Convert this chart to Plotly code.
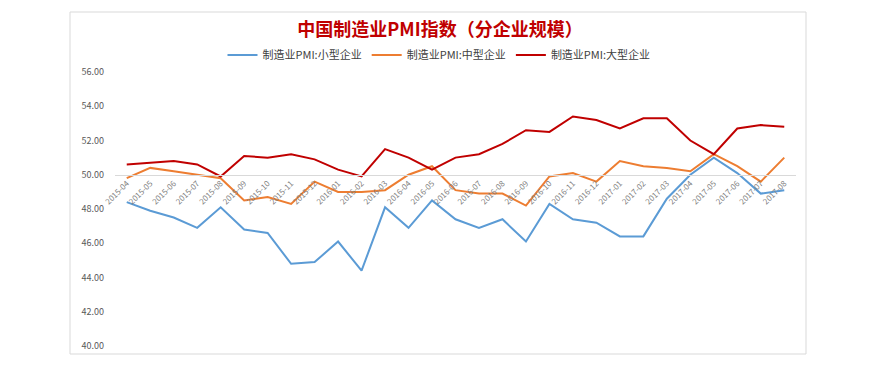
import plotly.graph_objects as go

months = ["2015-04","2015-05","2015-06","2015-07","2015-08","2015-09","2015-10","2015-11","2015-12",
          "2016-01","2016-02","2016-03","2016-04","2016-05","2016-06","2016-07","2016-08","2016-09",
          "2016-10","2016-11","2016-12","2017-01","2017-02","2017-03","2017-04","2017-05","2017-06",
          "2017-07","2017-08"]
small = [48.4,47.9,47.5,46.9,48.1,46.8,46.6,44.8,44.9,46.1,44.4,48.1,46.9,48.5,47.4,46.9,47.4,46.1,
         48.3,47.4,47.2,46.4,46.4,48.6,50.0,51.0,50.1,48.9,49.1]
medium = [49.8,50.4,50.2,50.0,49.8,48.5,48.7,48.3,49.6,49.0,49.0,49.1,50.0,50.5,49.1,48.9,48.9,48.2,
          49.9,50.1,49.6,50.8,50.5,50.4,50.2,51.2,50.5,49.6,51.0]
large = [50.6,50.7,50.8,50.6,49.9,51.1,51.0,51.2,50.9,50.3,49.9,51.5,51.0,50.3,51.0,51.2,51.8,52.6,
         52.5,53.4,53.2,52.7,53.3,53.3,52.0,51.2,52.7,52.9,52.8]
names = ["制造业PMI:小型企业", "制造业PMI:中型企业", "制造业PMI:大型企业"]
colors = ["#5B9BD5", "#ED7D31", "#C00000"]

fig = go.Figure()
for name, vals, c in zip(names, [small, medium, large], colors):
    fig.add_trace(go.Scatter(x=months, y=vals, name=name, mode="lines",
                             line=dict(color=c, width=2)))

FONT = "Noto Sans CJK SC"
L, R, T, B = 107, 788, 64, 338
W, H = R - L, B - T
fig.update_layout(
    width=870, height=378,
    margin=dict(l=L, r=870 - R, t=T, b=378 - B, autoexpand=False),
    paper_bgcolor="white", plot_bgcolor="white",
    font=dict(family=FONT, color="#595959"),
    title=dict(text="<b>中国制造业PMI指数（分企业规模）</b>", x=432 / 870, xref="container",
               xanchor="center", y=1 - 22 / 378, yref="container", yanchor="middle",
               font=dict(size=18, color="#C00000", family=FONT)),
    legend=dict(orientation="h", xref="container", x=431 / 870, xanchor="center",
                yref="container", y=1 - 47 / 378, yanchor="middle",
                font=dict(size=11, color="#404040", family=FONT),
                itemwidth=30, tracegroupgap=0),
    showlegend=True,
    xaxis=dict(type="category", range=[-0.5, 28.5], anchor="free", position=0.625,
               showline=True, linecolor="#D9D9D9", linewidth=1, showgrid=False,
               ticks="", tickangle=-45, tickfont=dict(size=8, color="#7F7F7F"),
               automargin=False),
    yaxis=dict(range=[40, 56], dtick=2, tickformat=".2f", showgrid=False,
               zeroline=False, showline=False, ticks="", automargin=False,
               tickfont=dict(size=9, color="#595959"), ticklabelstandoff=10),
    shapes=[dict(type="rect", xref="paper", yref="paper",
                 x0=(62 - L) / W, x1=(798 - L) / W,
                 y0=(B - 346) / H, y1=(B - 4) / H,
                 line=dict(color="#D9D9D9", width=1), fillcolor="rgba(0,0,0,0)", layer="below")],
)
fig.write_html("out.html")
